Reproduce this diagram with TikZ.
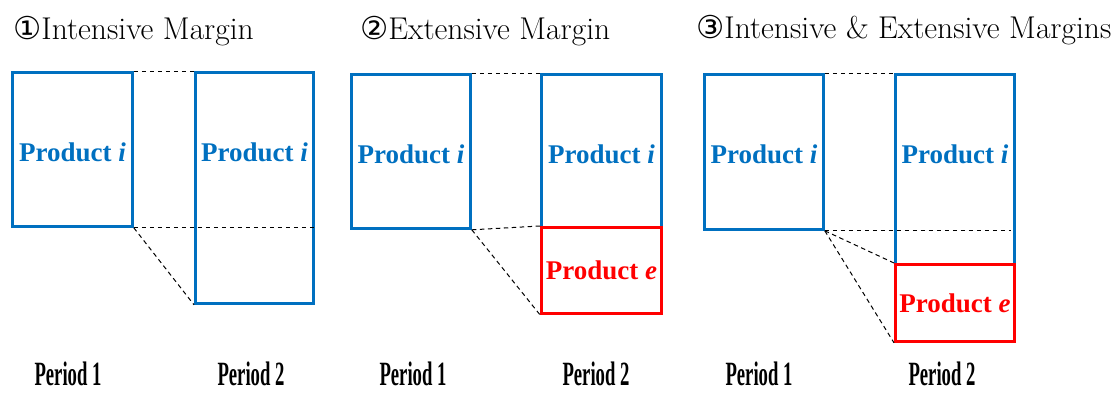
\documentclass[tikz,border=0pt]{standalone}
\usepackage{fontspec}
\newfontfamily\circfont{DejaVu Sans}
\newfontfamily\prodfont{Liberation Serif}
\newfontfamily\periodfont[FakeStretch=0.55]{Liberation Serif}
\definecolor{prodblue}{HTML}{0070C0}
\definecolor{prodred}{HTML}{FF0000}
\begin{document}
\begin{tikzpicture}[x=1pt,y=-1pt,
    box/.style={draw=prodblue,line width=2.8pt,inner sep=0pt,anchor=north west},
    newbox/.style={box,draw=prodred,text=prodred,font=\prodfont\fontsize{27}{29}\selectfont\bfseries},
    prod/.style={text=prodblue,font=\prodfont\fontsize{27}{29}\selectfont\bfseries},
    link/.style={dash pattern=on 4.5pt off 3.5pt,line width=1pt},
    title/.style={anchor=west,inner sep=0pt,font=\fontsize{31.5}{34}\selectfont},
    period/.style={font=\periodfont\bfseries\fontsize{34}{36}\selectfont}]
            \useasboundingbox (0,0) rectangle (1116,392);
            \node[title] (h1) at (13,31) {{\circfont ①}Intensive Margin};
            \node[title] (h2) at (360,31) {{\circfont ②}Extensive Margin};
            \node[title] (h3) at (696,30) {{\circfont ③}Intensive \& Extensive Margins};
            \node[box,minimum width=120pt,minimum height=154pt] (p1a) at (11,71) {};
            \node[box,minimum width=118pt,minimum height=231pt] (p1b) at (194,71) {};
            \node[prod] (t1a) at (p1a.center |- 0,152) {Product \textit{i}};
            \node[prod] (t1b) at (p1b.center |- 0,152) {Product \textit{i}};
            \draw[link] (p1a.north east) -- (p1b.north west);
            \draw[link] (p1a.south east) -- (p1b.east |- p1a.south east);
            \draw[link] (p1a.south east) -- (p1b.south west);
            \node[box,minimum width=119pt,minimum height=154pt] (p2a) at (350,73) {};
            \node[box,minimum width=120pt,minimum height=153pt] (p2b) at (540,73) {};
            \node[prod] (t2a) at (p2a.center |- 0,154) {Product \textit{i}};
            \node[prod] (t2b) at (p2b.center |- 0,154) {Product \textit{i}};
            \node[newbox,minimum width=120pt,minimum height=86pt] (p2e) at (540,226) {Product \textit{e}};
            \draw[link] (p2a.north east) -- (p2b.north west);
            \draw[link] (p2a.south east) -- (p2e.north west);
            \draw[link] (p2a.south east) -- (p2e.south west);
            \node[box,minimum width=119pt,minimum height=155pt] (p3a) at (703,73) {};
            \node[box,minimum width=119pt,minimum height=190pt] (p3b) at (894,73) {};
            \node[prod] (t3a) at (p3a.center |- 0,154) {Product \textit{i}};
            \node[prod] (t3b) at (p3b.center |- 0,154) {Product \textit{i}};
            \node[newbox,minimum width=119pt,minimum height=77pt] (p3e) at (894,263) {Product \textit{e}};
            \draw[link] (p3a.north east) -- (p3b.north west);
            \draw[link] (p3a.south east) -- ([xshift=-5pt]p3b.east |- p3a.south east);
            \draw[link] (p3a.south east) -- (p3e.north west);
            \draw[link] (p3a.south east) -- (p3e.south west);
            \node[period] (d1a) at (68,374) {Period 1};
            \node[period] (d1b) at (251,374) {Period 2};
            \node[period] (d2a) at (413,374) {Period 1};
            \node[period] (d2b) at (596,374) {Period 2};
            \node[period] (d3a) at (759,374) {Period 1};
            \node[period] (d3b) at (942,374) {Period 2};
            \end{tikzpicture}
\end{document}
